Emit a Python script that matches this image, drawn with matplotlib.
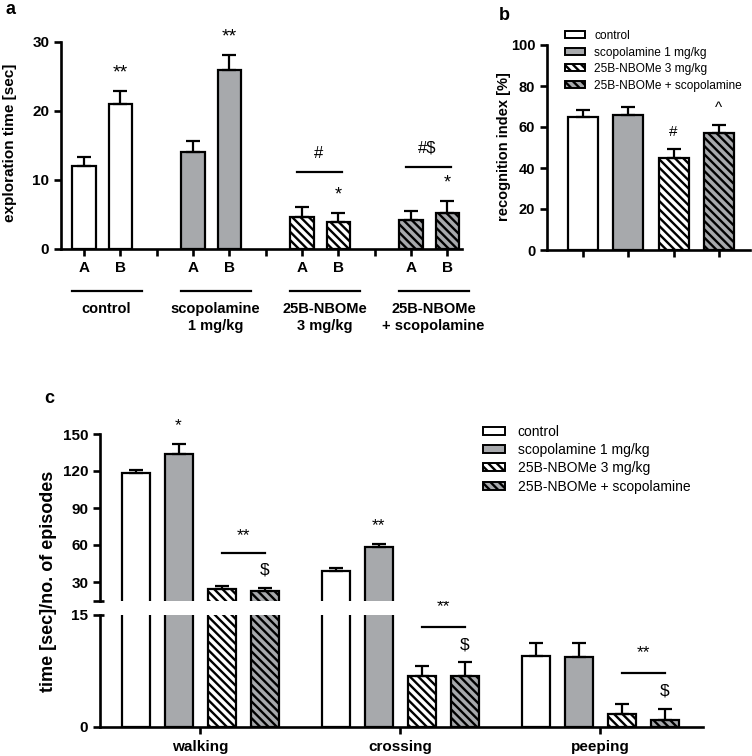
import matplotlib
matplotlib.use("Agg")
import matplotlib.pyplot as plt
import matplotlib.transforms as mtransforms
from matplotlib.patches import Patch
import numpy as np

plt.rcParams['font.family'] = ['Liberation Sans', 'DejaVu Sans']
plt.rcParams['hatch.linewidth'] = 1.7

# ---------------- data ----------------
groups = ["control", "scopolamine 1 mg/kg", "25B-NBOMe 3 mg/kg", "25B-NBOMe + scopolamine"]
group_labels_a = ["control", "scopolamine\n1 mg/kg", "25B-NBOMe\n3 mg/kg", "25B-NBOMe\n+ scopolamine"]
objects = ["A", "B"]

# panel a: exploration time [sec] (object A, object B) per group
expl_mean = [[12.0, 21.0], [14.0, 26.0], [4.7, 3.9], [4.2, 5.2]]
expl_err = [[1.4, 1.9], [1.7, 2.1], [1.4, 1.3], [1.3, 1.7]]
expl_marks = [["", "**"], ["", "**"], ["", "*"], ["", "*"]]
expl_group_marks = ["", "", "#", "#$"]

# panel b: recognition index [%]
rec_mean = [65, 66, 45, 57]
rec_err = [3.3, 4.0, 4.3, 3.8]
rec_marks = ["", "", "#", "^"]

# panel c: behaviours
behaviours = ["walking", "crossing", "peeping"]
beh_mean = {
    "control": [118, 39, 9.5],
    "scopolamine 1 mg/kg": [134, 58, 9.4],
    "25B-NBOMe 3 mg/kg": [24.3, 6.8, 1.8],
    "25B-NBOMe + scopolamine": [23.0, 6.8, 0.95],
}
beh_err = {
    "control": [3.0, 2.2, 1.7],
    "scopolamine 1 mg/kg": [7.5, 3.0, 1.8],
    "25B-NBOMe 3 mg/kg": [2.2, 1.4, 1.3],
    "25B-NBOMe + scopolamine": [1.8, 1.9, 1.4],
}
beh_scop_marks = ["*", "**", ""]

# ---------------- styles ----------------
GRAY = "#A7A9AC"
HATCH = "\\\\\\\\"
styles = [
    dict(facecolor="white", hatch=None),
    dict(facecolor=GRAY, hatch=None),
    dict(facecolor="white", hatch=HATCH),
    dict(facecolor=GRAY, hatch=HATCH),
]
EDGE_LW = 1.6
SPINE_LW = 1.9

W, H = 752, 756
fig = plt.figure(figsize=(W / 100, H / 100), dpi=100)


def axes_px(left, top, right, bottom):
    return fig.add_axes([left / W, 1 - bottom / H, (right - left) / W, (bottom - top) / H])


def style_axes(ax):
    for s in ["top", "right"]:
        ax.spines[s].set_visible(False)
    for s in ["left", "bottom"]:
        ax.spines[s].set_linewidth(SPINE_LW)
    ax.tick_params(width=SPINE_LW, length=5, direction="out")


# ================= panel a =================
axa = axes_px(61, 42, 462, 249)
style_axes(axa)
step = 3
tick_pos, tick_lab = [], []
for g in range(4):
    for k in range(2):
        x = g * step + k
        axa.bar(x, expl_mean[g][k], width=0.64, edgecolor="black", linewidth=EDGE_LW,
                zorder=2, **styles[g])
        axa.errorbar(x, expl_mean[g][k], yerr=[[0], [expl_err[g][k]]], fmt="none",
                     ecolor="black", elinewidth=EDGE_LW, capsize=5, capthick=EDGE_LW, zorder=3)
        tick_pos.append(x)
        tick_lab.append(objects[k])
        if expl_marks[g][k]:
            axa.text(x, expl_mean[g][k] + expl_err[g][k] + 2.6, expl_marks[g][k],
                     ha="center", va="center", fontsize=14 if expl_marks[g][k] == "**" else 13)
    if g < 3:
        tick_pos.append(g * step + 2)
        tick_lab.append("")
    if expl_group_marks[g]:
        top = max(m + e for m, e in zip(expl_mean[g], expl_err[g]))
        ly = top + 5.0
        axa.plot([g * step - 0.15, g * step + 1.1], [ly, ly], color="black", lw=1.6)
        axa.text(g * step + 0.45, ly + 2.8, expl_group_marks[g], ha="center", va="center", fontsize=12)

axa.set_xticks(tick_pos)
axa.set_xticklabels(tick_lab, fontsize=11, fontweight="bold")
axa.set_xlim(-0.63, 10.4)
axa.set_ylim(0, 30)
axa.set_yticks([0, 10, 20, 30])
axa.set_yticklabels(["0", "10", "20", "30"], fontsize=11, fontweight="bold")
axa.tick_params(axis="x", pad=4)

trans_a = mtransforms.blended_transform_factory(axa.transData, fig.transFigure)
for g in range(4):
    x0 = g * step
    axa.plot([x0 - 0.33, x0 + 1.6], [1 - 291 / H] * 2, color="black", lw=1.6,
             transform=trans_a, clip_on=False)
    axa.text(x0 + 0.62, 1 - 302 / H, group_labels_a[g], transform=trans_a, ha="center",
             va="top", fontsize=10.5, fontweight="bold", linespacing=1.25)

fig.text(10 / W, 1 - 143 / H, "exploration time [sec]", rotation=90, ha="center", va="center",
         fontsize=11, fontweight="bold")
fig.text(6 / W, 1 - 9 / H, "a", ha="left", va="center", fontsize=13, fontweight="bold")

# ================= panel b =================
axb = axes_px(547, 45, 750, 250)
style_axes(axb)
xb = np.arange(4)
for i in range(4):
    axb.bar(xb[i], rec_mean[i], width=0.66, edgecolor="black", linewidth=EDGE_LW, zorder=2,
            **styles[i])
    axb.errorbar(xb[i], rec_mean[i], yerr=[[0], [rec_err[i]]], fmt="none", ecolor="black",
                 elinewidth=EDGE_LW, capsize=5, capthick=EDGE_LW, zorder=3)
    if rec_marks[i]:
        axb.text(xb[i], rec_mean[i] + rec_err[i] + 8.5, rec_marks[i], ha="center", va="center",
                 fontsize=11)
axb.set_xlim(-0.8, 3.69)
axb.set_ylim(0, 100)
axb.set_xticks(xb)
axb.set_xticklabels([""] * 4)
axb.set_yticks([0, 20, 40, 60, 80, 100])
axb.set_yticklabels(["0", "20", "40", "60", "80", "100"], fontsize=10.5, fontweight="bold")
handles_b = [Patch(edgecolor="black", linewidth=1.4, **styles[i]) for i in range(4)]
axb.legend(handles_b, groups, loc="upper left", bbox_to_anchor=(565 / W, 1 - 30 / H),
           bbox_transform=fig.transFigure, frameon=False, fontsize=8.6, borderpad=0,
           borderaxespad=0, handlelength=1.65, handleheight=0.5, handletextpad=0.8,
           labelspacing=0.38)
fig.text(504 / W, 1 - 147 / H, "recognition index [%]", rotation=90, ha="center", va="center",
         fontsize=10.5, fontweight="bold")
fig.text(499 / W, 1 - 15 / H, "b", ha="left", va="center", fontsize=13, fontweight="bold")

# ================= panel c =================
axc_lo = axes_px(100, 615, 703, 727)
axc_hi = axes_px(100, 434, 703, 600.5)
style_axes(axc_lo)
style_axes(axc_hi)
axc_hi.spines["bottom"].set_visible(False)
axc_hi.tick_params(axis="x", bottom=False, labelbottom=False)

xc = np.arange(len(behaviours))
bstep, bw = 0.215, 0.14
for i, g in enumerate(groups):
    xs = xc + (i - 1.5) * bstep
    for ax in (axc_lo, axc_hi):
        ax.bar(xs, beh_mean[g], width=bw, edgecolor="black", linewidth=EDGE_LW, zorder=2,
               **styles[i])
        ax.errorbar(xs, beh_mean[g], yerr=[np.zeros(3), beh_err[g]], fmt="none", ecolor="black",
                    elinewidth=EDGE_LW, capsize=5, capthick=EDGE_LW, zorder=3)

axc_lo.set_ylim(0, 15)
axc_hi.set_ylim(15, 150)
axc_lo.set_xlim(-0.5, 2.515)
axc_hi.set_xlim(-0.5, 2.515)
axc_lo.set_yticks([0, 15])
axc_lo.set_yticklabels(["0", "15"], fontsize=11, fontweight="bold")
axc_hi.set_yticks([30, 60, 90, 120, 150])
axc_hi.set_yticklabels(["30", "60", "90", "120", "150"], fontsize=11, fontweight="bold")
axc_lo.set_xticks(xc)
axc_lo.set_xticklabels(behaviours, fontsize=11, fontweight="bold")
axc_lo.tick_params(axis="x", pad=4)

# break markers
axc_hi.plot([-0.0115, 0.007], [0, 0], transform=axc_hi.transAxes, color="black", lw=SPINE_LW,
            clip_on=False, solid_capstyle="butt")
axc_lo.plot([0, 0.007], [1, 1], transform=axc_lo.transAxes, color="black", lw=SPINE_LW,
            clip_on=False, solid_capstyle="butt")

# significance marks, scopolamine group
scop = groups[1]
xs_scop = xc + (1 - 1.5) * bstep
for j in range(3):
    if beh_scop_marks[j]:
        axc_hi.text(xs_scop[j], beh_mean[scop][j] + beh_err[scop][j] + 15, beh_scop_marks[j],
                    ha="center", va="center", fontsize=12.5, clip_on=False)

# significance for 25B-NBOMe pair
xs_n = xc + 0.5 * bstep
xs_ns = xc + 1.5 * bstep
sig_y_hi = [53.5, None, None]
sig_y_lo = [None, 13.4, 7.2]
for j in range(3):
    if sig_y_hi[j] is not None:
        ax, ly, d1, d2 = axc_hi, sig_y_hi[j], 14.0, 14.0
    else:
        ax, ly, d1, d2 = axc_lo, sig_y_lo[j], 2.7, 2.4
    ax.plot([xs_n[j], xs_ns[j]], [ly, ly], color="black", lw=1.6, clip_on=False)
    ax.text((xs_n[j] + xs_ns[j]) / 2, ly + d1, "**", ha="center", va="center", fontsize=12.5,
            clip_on=False)
    ax.text(xs_ns[j], ly - d2, "$", ha="center", va="center", fontsize=12.5, clip_on=False)

handles_c = [Patch(edgecolor="black", linewidth=1.4, **styles[i]) for i in range(4)]
axc_hi.legend(handles_c, groups, loc="upper left", bbox_to_anchor=(483 / W, 1 - 425 / H),
              bbox_transform=fig.transFigure, frameon=False, fontsize=10, borderpad=0,
              borderaxespad=0, handlelength=1.6, handleheight=0.5, handletextpad=0.9,
              labelspacing=0.3)

fig.text(49 / W, 1 - 581 / H, "time [sec]/no. of episodes", rotation=90, ha="center",
         va="center", fontsize=13, fontweight="bold")
fig.text(44 / W, 1 - 398 / H, "c", ha="left", va="center", fontsize=13, fontweight="bold")

fig.savefig("out.png", dpi=100)
